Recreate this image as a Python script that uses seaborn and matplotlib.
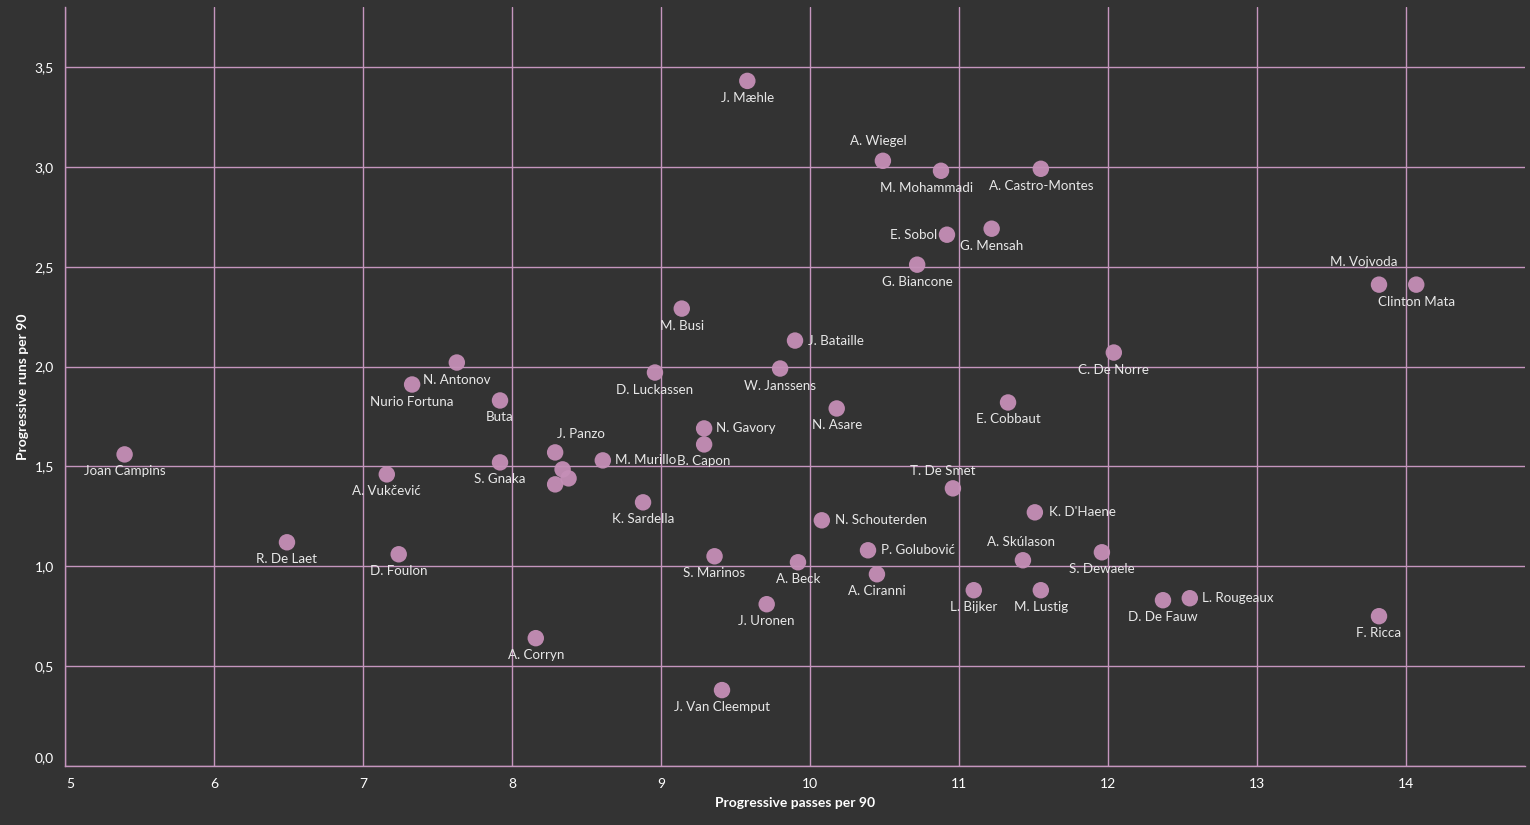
import matplotlib
matplotlib.use("Agg")
import matplotlib.pyplot as plt
import matplotlib.transforms as mtransforms
from matplotlib.ticker import FuncFormatter, FixedLocator
import seaborn as sns
import pandas as pd

# ---- data ----
players = [
    "J. Mæhle", "A. Wiegel", "M. Mohammadi", "A. Castro-Montes", "E. Sobol",
    "G. Mensah", "G. Biancone", "M. Vojvoda", "Clinton Mata", "M. Busi",
    "J. Bataille", "C. De Norre", "N. Antonov", "Nurio Fortuna", "D. Luckassen",
    "W. Janssens", "Buta", "N. Asare", "E. Cobbaut", "N. Gavory",
    "B. Capon", "J. Panzo", "Joan Campins", "M. Murillo", "S. Gnaka",
    "", "", "",
    "A. Vukčević", "T. De Smet", "K. Sardella", "K. D'Haene", "N. Schouterden",
    "R. De Laet", "D. Foulon", "P. Golubović", "S. Dewaele", "S. Marinos",
    "A. Skúlason", "A. Beck", "A. Ciranni", "L. Bijker", "M. Lustig",
    "L. Rougeaux", "D. De Fauw", "J. Uronen", "F. Ricca", "A. Corryn",
    "J. Van Cleemput",
]
prog_passes = [
    9.58, 10.49, 10.88, 11.55, 10.92,
    11.22, 10.72, 13.82, 14.07, 9.14,
    9.90, 12.04, 7.63, 7.33, 8.96,
    9.80, 7.92, 10.18, 11.33, 9.29,
    9.29, 8.29, 5.40, 8.61, 7.92,
    8.34, 8.38, 8.29,
    7.16, 10.96, 8.88, 11.51, 10.08,
    6.49, 7.24, 10.39, 11.96, 9.36,
    11.43, 9.92, 10.45, 11.10, 11.55,
    12.55, 12.37, 9.71, 13.82, 8.16,
    9.41,
]
prog_runs = [
    3.43, 3.03, 2.98, 2.99, 2.66,
    2.69, 2.51, 2.41, 2.41, 2.29,
    2.13, 2.07, 2.02, 1.91, 1.97,
    1.99, 1.83, 1.79, 1.82, 1.69,
    1.61, 1.57, 1.56, 1.53, 1.52,
    1.485, 1.44, 1.41,
    1.46, 1.39, 1.32, 1.27, 1.23,
    1.12, 1.06, 1.08, 1.07, 1.05,
    1.03, 1.02, 0.96, 0.88, 0.88,
    0.84, 0.83, 0.81, 0.75, 0.64,
    0.38,
]
x_ticks = [5, 6, 7, 8, 9, 10, 11, 12, 13, 14]
y_ticks = [0.0, 0.5, 1.0, 1.5, 2.0, 2.5, 3.0, 3.5]

# label placement (pixel offsets from the point; style only)
BELOW = (0, -17, "center")
label_pos = {
    "A. Wiegel": (-5, 20, "center"),
    "M. Mohammadi": (-14, -17, "center"),
    "E. Sobol": (-10, 0, "right"),
    "M. Vojvoda": (-15, 23, "center"),
    "J. Bataille": (13, 0, "left"),
    "N. Gavory": (12, 0, "left"),
    "J. Panzo": (26, 18, "center"),
    "M. Murillo": (12, 0, "left"),
    "T. De Smet": (-10, 17, "center"),
    "K. D'Haene": (14, 0, "left"),
    "N. Schouterden": (13, 0, "left"),
    "P. Golubović": (13, 0, "left"),
    "A. Skúlason": (-2, 18, "center"),
    "L. Rougeaux": (12, 0, "left"),
}

df = pd.DataFrame({"player": players, "passes": prog_passes, "runs": prog_runs})

BG = "#333333"
GRID = "#c596be"
DOT = "#c58fb7"
TXT = "#e8e8e8"

sns.set_theme(style="dark", rc={
    "figure.facecolor": BG,
    "axes.facecolor": BG,
})
plt.rcParams["font.family"] = ["Lato", "DejaVu Sans"]

fig = plt.figure(figsize=(15.3, 8.25), dpi=100)
W, H = 1530, 825
left, right, top, bottom = 65, 1525, 7, 766
ax = fig.add_axes([left / W, (H - bottom) / H, (right - left) / W, (bottom - top) / H])
ax.set_facecolor(BG)

sns.scatterplot(data=df, x="passes", y="runs", ax=ax, s=140, color=DOT,
                edgecolor="none", alpha=0.95, zorder=3, legend=False)

for name, xv, yv in zip(players, prog_passes, prog_runs):
    if not name:
        continue
    dx, dy, ha = label_pos.get(name, BELOW)
    ax.annotate(name, (xv, yv), xytext=(dx, dy), textcoords="offset pixels",
                ha=ha, va="center", fontsize=9.6, color=TXT, zorder=4)

ax.set_xlim(5, 14.8)
ax.set_ylim(0, 3.8)
ax.xaxis.set_major_locator(FixedLocator(x_ticks))
ax.yaxis.set_major_locator(FixedLocator(y_ticks))
ax.xaxis.set_major_formatter(FuncFormatter(lambda v, p: f"{v:g}"))
ax.yaxis.set_major_formatter(FuncFormatter(lambda v, p: f"{v:.1f}".replace(".", ",")))

ax.grid(True, color=GRID, linewidth=1.0, zorder=1)
ax.set_axisbelow(True)
for side in ["top", "right"]:
    ax.spines[side].set_visible(False)
for side in ["left", "bottom"]:
    ax.spines[side].set_color(GRID)
    ax.spines[side].set_linewidth(1.0)

ax.tick_params(axis="both", colors=GRID, length=5, width=1.0, direction="out",
               labelcolor="#ffffff", labelsize=10, pad=3)
ax.tick_params(axis="x", pad=4)

ax.set_xlabel("Progressive passes per 90", color="#ffffff", fontsize=10,
              fontweight="bold", labelpad=5)
ax.set_ylabel("Progressive runs per 90", color="#ffffff", fontsize=10,
              fontweight="bold", labelpad=4)

# nudge the first tick labels like the reference
lab0 = ax.get_yticklabels()[0]
lab0.set_transform(lab0.get_transform() +
                   mtransforms.ScaledTranslation(0, 9 / 100, fig.dpi_scale_trans))
labx0 = ax.get_xticklabels()[0]
labx0.set_transform(labx0.get_transform() +
                    mtransforms.ScaledTranslation(5 / 100, 0, fig.dpi_scale_trans))

fig.savefig("out.png", dpi=100, facecolor=BG)
